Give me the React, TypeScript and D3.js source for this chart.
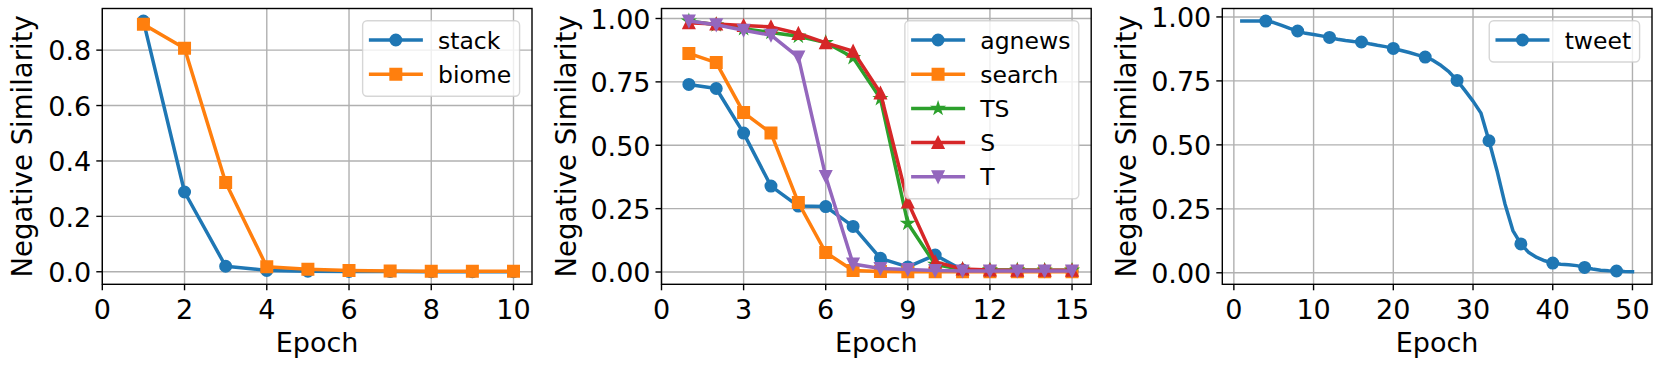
import React from 'react'
import * as d3 from 'd3'

// ---- data ----
const epochs10 = [1, 2, 3, 4, 5, 6, 7, 8, 9, 10]
const stack = [0.905, 0.288, 0.02, 0.005, 0.002, 0.001, 0.001, 0.0, 0.0, 0.0]
const biome = [0.893, 0.807, 0.322, 0.018, 0.009, 0.005, 0.003, 0.002, 0.002, 0.002]

const epochs15 = [1, 2, 3, 4, 5, 6, 7, 8, 9, 10, 11, 12, 13, 14, 15]
const agnews = [0.74, 0.724, 0.548, 0.339, 0.26, 0.258, 0.18, 0.054, 0.02, 0.067, 0.008, 0.004, 0.003, 0.003, 0.003]
const search = [0.862, 0.826, 0.629, 0.548, 0.274, 0.077, 0.006, 0.002, 0.001, 0.001, 0.001, 0.001, 0.001, 0.001, 0.001]
const ts = [0.99, 0.975, 0.96, 0.945, 0.93, 0.905, 0.846, 0.684, 0.192, 0.03, 0.01, 0.008, 0.008, 0.007, 0.007]
const s = [0.983, 0.978, 0.972, 0.967, 0.941, 0.904, 0.871, 0.706, 0.276, 0.04, 0.012, 0.008, 0.007, 0.007, 0.007]
const t = [0.99, 0.975, 0.954, 0.934, 0.848, 0.377, 0.032, 0.014, 0.01, 0.006, 0.004, 0.004, 0.004, 0.004, 0.004]

const epochs50 = d3.range(1, 51)
const tweet = [
  0.984, 0.984, 0.984, 0.984, 0.978, 0.967, 0.955, 0.945, 0.936, 0.931,
  0.926, 0.92, 0.913, 0.908, 0.904, 0.902, 0.895, 0.889, 0.884, 0.877,
  0.869, 0.861, 0.852, 0.843, 0.83, 0.81, 0.785, 0.752, 0.712, 0.671,
  0.624, 0.516, 0.4, 0.27, 0.165, 0.113, 0.079, 0.06, 0.047, 0.038,
  0.033, 0.031, 0.028, 0.021, 0.015, 0.01, 0.008, 0.007, 0.005, 0.004,
]
const tweetMarkEvery = 4

const ticks1x = [0, 2, 4, 6, 8, 10]
const ticks1y = [0, 0.2, 0.4, 0.6, 0.8]
const ticks2x = [0, 3, 6, 9, 12, 15]
const ticksPct = [0, 0.25, 0.5, 0.75, 1.0]
const ticks3x = [0, 10, 20, 30, 40, 50]

const C = ['#1f77b4', '#ff7f0e', '#2ca02c', '#d62728', '#9467bd']

type Series = { name: string; x: number[]; y: number[]; color: string; marker: string; every?: number }

const panels = [
  {
    left: 102.3, ylabelX: 31.7, xTicks: ticks1x, yTicks: ticks1y, yFmt: d3.format('.1f'), xMin0: true,
    series: [
      { name: 'stack', x: epochs10, y: stack, color: C[0], marker: 'o' },
      { name: 'biome', x: epochs10, y: biome, color: C[1], marker: 's' },
    ] as Series[],
  },
  {
    left: 661.5, ylabelX: 575.5, xTicks: ticks2x, yTicks: ticksPct, yFmt: d3.format('.2f'), xMin0: true,
    series: [
      { name: 'agnews', x: epochs15, y: agnews, color: C[0], marker: 'o' },
      { name: 'search', x: epochs15, y: search, color: C[1], marker: 's' },
      { name: 'TS', x: epochs15, y: ts, color: C[2], marker: '*' },
      { name: 'S', x: epochs15, y: s, color: C[3], marker: '^' },
      { name: 'T', x: epochs15, y: t, color: C[4], marker: 'v' },
    ] as Series[],
  },
  {
    left: 1222.3, ylabelX: 1135.5, xTicks: ticks3x, yTicks: ticksPct, yFmt: d3.format('.2f'), xMin0: false,
    series: [
      { name: 'tweet', x: epochs50, y: tweet, color: C[0], marker: 'o', every: tweetMarkEvery },
    ] as Series[],
  },
]

const W = 1661, H = 365
const PW = 429.7, TOP = 8.5, BOTTOM = 284.3
const FONT = "'DejaVu Sans', 'Bitstream Vera Sans', sans-serif"
const FS = 27, LFS = 23.5
const MS = 11.2, MEW = 1.8, LW = 3.5
const GRID = '#b0b0b0'

function markerPath(kind: string, ms: number) {
  const r = ms / 2
  if (kind === 's') return `M${-r},${-r}H${r}V${r}H${-r}Z`
  if (kind === '^') return `M0,${-r}L${-r},${r}L${r},${r}Z`
  if (kind === 'v') return `M0,${r}L${-r},${-r}L${r},${-r}Z`
  if (kind === '*') {
    const pts: string[] = []
    for (let i = 0; i < 10; i++) {
      const rr = i % 2 === 0 ? r : r * 0.381966
      const a = (i * Math.PI) / 5
      pts.push(`${(rr * Math.sin(a)).toFixed(2)},${(-rr * Math.cos(a)).toFixed(2)}`)
    }
    return 'M' + pts.join('L') + 'Z'
  }
  return `M${r},0A${r},${r} 0 1,1 ${-r},0A${r},${r} 0 1,1 ${r},0Z`
}

let ctx: CanvasRenderingContext2D | null = null
function textWidth(str: string, size: number) {
  if (!ctx) ctx = document.createElement('canvas').getContext('2d')
  if (!ctx) return str.length * size * 0.6
  ctx.font = `${size}px 'DejaVu Sans'`
  return ctx.measureText(str).width
}

function Marker({ kind, x, y, color }: { kind: string; x: number; y: number; color: string }) {
  return (
    <path d={markerPath(kind, MS)} transform={`translate(${x},${y})`} fill={color}
      stroke={color} strokeWidth={MEW} strokeLinejoin="miter" />
  )
}

function Panel({ p, idx }: { p: (typeof panels)[number]; idx: number }) {
  const allX = p.series.flatMap(d => d.x)
  const allY = p.series.flatMap(d => d.y)
  const [x0, x1] = d3.extent(allX) as [number, number]
  const [y0, y1] = d3.extent(allY) as [number, number]
  // matplotlib-style 5% margins
  const mx = (x1 - x0) * 0.05, my = (y1 - y0) * 0.05
  const x = d3.scaleLinear().domain([p.xMin0 ? 0 : x0 - mx, x1 + mx]).range([p.left, p.left + PW])
  const y = d3.scaleLinear().domain([y0 - my, y1 + my]).range([BOTTOM, TOP])
  const right = p.left + PW
  const clipId = `clip${idx}`

  // legend geometry
  const maxTW = d3.max(p.series, d => textWidth(d.name, LFS)) || 0
  const legW = 75.4 + maxTW + 8.4
  const legX = right - 12.4 - legW
  const legY = TOP + 12.2
  const rowH = 34.2
  const legH = 19.3 + (p.series.length - 1) * rowH + 22

  return (
    <g>
      <defs>
        <clipPath id={clipId}><rect x={p.left} y={TOP} width={PW} height={BOTTOM - TOP} /></clipPath>
      </defs>
      {/* grid */}
      {p.xTicks.map(v => (
        <line key={'gx' + v} x1={x(v)} x2={x(v)} y1={TOP} y2={BOTTOM} stroke={GRID} strokeWidth={1.4} />
      ))}
      {p.yTicks.map(v => (
        <line key={'gy' + v} x1={p.left} x2={right} y1={y(v)} y2={y(v)} stroke={GRID} strokeWidth={1.4} />
      ))}
      {/* series */}
      <g clipPath={`url(#${clipId})`}>
        {p.series.map(sr => {
          const pts = sr.x.map((xv, i) => [x(xv), y(sr.y[i])] as [number, number])
          const d = d3.line()(pts) || ''
          return (
            <g key={sr.name}>
              <path d={d} fill="none" stroke={sr.color} strokeWidth={LW} strokeLinejoin="round" strokeLinecap="square" />
              {pts.map((pt, i) => {
                if (sr.every && (i + 1) % sr.every !== 0) return null
                return <Marker key={i} kind={sr.marker} x={pt[0]} y={pt[1]} color={sr.color} />
              })}
            </g>
          )
        })}
      </g>
      {/* spines */}
      <rect x={p.left} y={TOP} width={PW} height={BOTTOM - TOP} fill="none" stroke="#000" strokeWidth={1.4} />
      {/* x ticks */}
      {p.xTicks.map(v => (
        <g key={'tx' + v}>
          <line x1={x(v)} x2={x(v)} y1={BOTTOM} y2={BOTTOM + 6} stroke="#000" strokeWidth={1.4} />
          <text x={x(v)} y={BOTTOM + 34.7} textAnchor="middle" fontSize={FS} fontFamily={FONT}>{v}</text>
        </g>
      ))}
      {/* y ticks */}
      {p.yTicks.map(v => (
        <g key={'ty' + v}>
          <line x1={p.left - 6} x2={p.left} y1={y(v)} y2={y(v)} stroke="#000" strokeWidth={1.4} />
          <text x={p.left - 11} y={y(v) + 10.3} textAnchor="end" fontSize={FS} fontFamily={FONT}>{p.yFmt(v)}</text>
        </g>
      ))}
      <text x={p.left + PW / 2} y={351.7} textAnchor="middle" fontSize={FS} fontFamily={FONT}>Epoch</text>
      <text transform={`translate(${p.ylabelX},${(TOP + BOTTOM) / 2}) rotate(-90)`} textAnchor="middle"
        fontSize={27.5} fontFamily={FONT}>Negative Similarity</text>
      {/* legend */}
      <rect x={legX} y={legY} width={legW} height={legH} rx={4.5} fill="#fff" fillOpacity={0.8}
        stroke="#cccccc" strokeOpacity={0.8} strokeWidth={1.4} />
      {p.series.map((sr, i) => {
        const cy = legY + 19.3 + i * rowH
        return (
          <g key={'lg' + sr.name}>
            <line x1={legX + 8} x2={legX + 58.5} y1={cy} y2={cy} stroke={sr.color} strokeWidth={LW} strokeLinecap="square" />
            <Marker kind={sr.marker} x={legX + 33.2} y={cy} color={sr.color} />
            <text x={legX + 75.4} y={cy + 8.5} fontSize={LFS} fontFamily={FONT}>{sr.name}</text>
          </g>
        )
      })}
    </g>
  )
}

export default function App() {
  return (
    <div>
      <style>{`body{margin:0;background:#fff}`}</style>
      <svg width={W} height={H} viewBox={`0 0 ${W} ${H}`} style={{ display: 'block' }}>
        <rect width={W} height={H} fill="#fff" />
        {panels.map((p, i) => <Panel key={i} p={p} idx={i} />)}
      </svg>
    </div>
  )
}
